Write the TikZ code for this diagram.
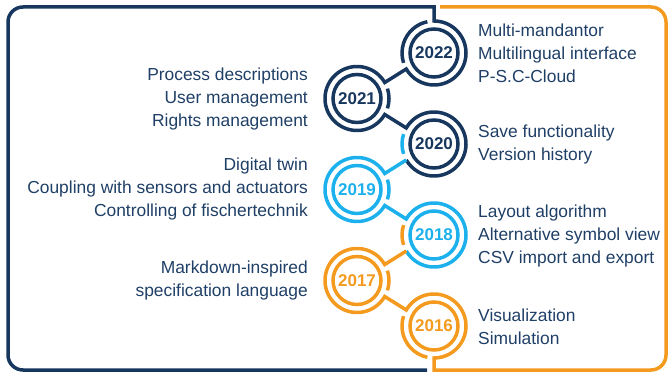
\documentclass[tikz,border=0pt]{standalone}
\usepackage{fontspec}
\setmainfont{Liberation Sans}
\usepackage{xcolor}
\usepackage{tikz}

\definecolor{navy}{HTML}{17375E}
\definecolor{skyblue}{HTML}{1CB1EC}
\definecolor{amber}{HTML}{F39A1F}
\definecolor{textblue}{HTML}{1F3F66}

\begin{document}
\begin{tikzpicture}[x=1pt, y=1pt,
        band/.style={line width=3.5pt},
        year/.style={draw=#1, text=#1, circle, line width=3.5pt, minimum size=48pt, inner sep=0pt,
            font=\fontsize{17}{20}\selectfont\bfseries},
        ring/.style={circle, minimum size=64pt, inner sep=0pt, outer sep=0pt},
        info/.style={inner sep=0pt, text=textblue, font=\fontsize{17.4}{23}\selectfont}]
                \useasboundingbox (0, 0) rectangle (668, 372);

                \node[year=navy] (y2022) at (434, 319) {2022};
                \node[year=navy] (y2021) at (357, 273.5) {2021};
                \node[year=navy] (y2020) at (434, 228) {2020};
                \node[year=skyblue] (y2019) at (357, 182.5) {2019};
                \node[year=skyblue] (y2018) at (434, 137) {2018};
                \node[year=amber] (y2017) at (357, 91.5) {2017};
                \node[year=amber] (y2016) at (434, 46) {2016};

                \node[ring] (r2022) at (y2022) {};
                \node[ring] (r2021) at (y2021) {};
                \node[ring] (r2020) at (y2020) {};
                \node[ring] (r2019) at (y2019) {};
                \node[ring] (r2018) at (y2018) {};
                \node[ring] (r2017) at (y2017) {};
                \node[ring] (r2016) at (y2016) {};

                % outer track
                \draw[band, navy] (427, 2) -- (23, 2) arc[start angle=270, end angle=180, radius=15pt]
                    -- (8, 350) arc[start angle=180, end angle=90, radius=15pt] -- (434, 365)
                    -- (r2022.90) arc[start angle=90, end angle=-150, radius=32pt]
                    -- (r2021.30) arc[start angle=30, end angle=330, radius=32pt]
                    -- (r2020.150) arc[start angle=150, end angle=-150, radius=32pt];
                \draw[band, skyblue] (r2020.210)
                    -- (r2019.30) arc[start angle=30, end angle=330, radius=32pt]
                    -- (r2018.150) arc[start angle=150, end angle=-150, radius=32pt];
                \draw[band, amber] (r2018.210)
                    -- (r2017.30) arc[start angle=30, end angle=330, radius=32pt]
                    -- (r2016.150) arc[start angle=150, end angle=-90, radius=32pt]
                    -- (434, 2) -- (651, 2) arc[start angle=-90, end angle=0, radius=15pt]
                    -- (666, 350) arc[start angle=0, end angle=90, radius=15pt] -- (440, 365);

                % inner pieces of the rings
                \draw[band, navy] (r2022.102) arc[start angle=102, end angle=198, radius=32pt];
                \draw[band, navy] (r2021.342) arc[start angle=-18, end angle=18, radius=32pt];
                \draw[band, skyblue] (r2020.162) arc[start angle=162, end angle=198, radius=32pt];
                \draw[band, skyblue] (r2019.342) arc[start angle=-18, end angle=18, radius=32pt];
                \draw[band, amber] (r2018.162) arc[start angle=162, end angle=198, radius=32pt];
                \draw[band, amber] (r2017.342) arc[start angle=-18, end angle=18, radius=32pt];
                \draw[band, amber] (r2016.162) arc[start angle=162, end angle=258, radius=32pt];

                \node[info, anchor=west, align=left] (t2022) at (478, 319) {Multi-mandantor\\Multilingual interface\\P-S.C-Cloud};
                \node[info, anchor=east, align=right] (t2021) at (308, 273) {Process descriptions\\User management\\Rights management};
                \node[info, anchor=west, align=left] (t2020) at (478, 227) {Save functionality\\Version history};
                \node[info, anchor=east, align=right] (t2019) at (308, 182.5) {Digital twin\\Coupling with sensors and actuators\\Controlling of fischertechnik};
                \node[info, anchor=west, align=left] (t2018) at (478, 135.5) {Layout algorithm\\Alternative symbol view\\CSV import and export};
                \node[info, anchor=east, align=right] (t2017) at (308, 91.5) {Markdown-inspired\\specification language};
                \node[info, anchor=west, align=left] (t2016) at (478, 45.5) {Visualization\\Simulation};
            \end{tikzpicture}
\end{document}
